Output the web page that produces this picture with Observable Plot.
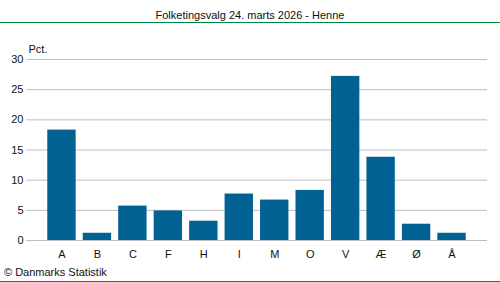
<!DOCTYPE html>
<html>
<head>
<meta charset="utf-8">
<script src="https://cdn.jsdelivr.net/npm/d3@7"></script>
<script src="https://cdn.jsdelivr.net/npm/@observablehq/plot@0.6"></script>
<style>
  html, body { margin: 0; padding: 0; background: #fff; }
  body { width: 500px; height: 282px; overflow: hidden; font-family: "Liberation Sans", Arial, sans-serif; color: #111; }
  #title { box-sizing: content-box; height: 14px; padding-top: 8px; line-height: 14px; font-size: 11px; text-align: center; border-bottom: 1px solid #008542; }
  #caption { box-sizing: content-box; height: 16px; padding-top: 2px; padding-left: 4px; line-height: 14px; font-size: 11px; border-bottom: 1px solid #008542; }
  svg { display: block; }
</style>
</head>
<body>
<div id="title">Folketingsvalg 24. marts 2026 - Henne</div>
<div id="chart"></div>
<div id="caption">© Danmarks Statistik</div>
<script>
const parties = ["A", "B", "C", "F", "H", "I", "M", "O", "V", "Æ", "Ø", "Å"];
const values = [18.3, 1.2, 5.7, 4.9, 3.2, 7.7, 6.7, 8.3, 27.2, 13.8, 2.7, 1.2];
const yTicks = [0, 5, 10, 15, 20, 25, 30];
const yLabel = "Pct.";

const data = parties.map((p, i) => ({party: p, value: values[i]}));

const chart = Plot.plot({
  width: 500,
  height: 240,
  marginTop: 36,
  marginBottom: 23,
  marginLeft: 26,
  marginRight: 13,
  style: {fontFamily: "'Liberation Sans', Arial, sans-serif", fontSize: "11px", color: "#111", background: "#fff"},
  x: {domain: parties, paddingInner: 0.2, paddingOuter: 0.6, round: false, label: null},
  y: {domain: [0, 30], label: null},
  marks: [
    Plot.gridY(yTicks, {stroke: "#bdbdc6", strokeOpacity: 1, strokeWidth: 1}),
    Plot.barY(data, {x: "party", y: "value", fill: "#006192"}),
    Plot.axisY(yTicks, {tickSize: 0, tickPadding: 3, label: null, fontSize: 11}),
    Plot.axisX({tickSize: 0, tickPadding: 10, label: null, fontSize: 11}),
    Plot.text([yLabel], {frameAnchor: "top-left", text: d => d, dx: 2, dy: -14, textAnchor: "start", lineAnchor: "top", fontSize: 11})
  ]
});
document.getElementById("chart").appendChild(chart);
</script>
</body>
</html>
